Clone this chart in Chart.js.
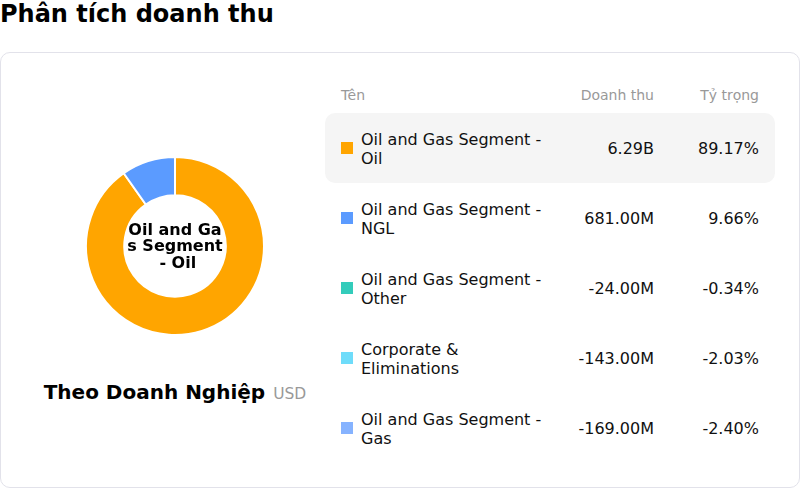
<!DOCTYPE html>
<html>
<head>
<meta charset="utf-8">
<script src="https://cdn.jsdelivr.net/npm/chart.js@4.4.1/dist/chart.umd.min.js"></script>
<style>
  html,body{margin:0;padding:0;background:#fff;font-family:"DejaVu Sans",sans-serif;}
  body{width:800px;height:488px;position:relative;overflow:hidden;}
  #title{position:absolute;left:0;top:0px;font-size:24px;font-weight:bold;color:#000;}
  #card{position:absolute;left:0;top:52px;width:798px;height:434px;border:1px solid #e2e2ea;border-radius:10px;box-sizing:content-box;}
  #chartBox{position:absolute;left:85px;top:156px;width:180px;height:180px;}
  #caption{position:absolute;left:0;width:350px;top:380px;text-align:center;white-space:nowrap;}
  #caption b{font-size:20px;color:#000;}
  #caption span{font-size:15.5px;color:#999;margin-left:8px;}
  .hdr{position:absolute;top:87px;font-size:14px;color:#999;}
  .row{position:absolute;left:325px;width:450px;height:70px;border-radius:10px;}
  .row.hl{background:#f5f5f5;}
  .sw{position:absolute;left:16px;top:29px;width:12px;height:12px;}
  .nm{position:absolute;left:36px;top:16px;width:186px;font-size:16px;line-height:19px;color:#111;}
  .val{position:absolute;right:121px;top:26px;font-size:16px;color:#111;text-align:right;}
  .pct{position:absolute;right:16px;top:26px;font-size:16px;color:#111;text-align:right;}
</style>
</head>
<body>
<div id="title">Phân tích doanh thu</div>
<div id="card"></div>
<div id="chartBox"><canvas id="c"></canvas></div>
<div id="caption"><b>Theo Doanh Nghiệp</b><span>USD</span></div>
<div class="hdr" style="left:341px;">Tên</div>
<div class="hdr" style="right:146px;">Doanh thu</div>
<div class="hdr" style="right:41px;">Tỷ trọng</div>
<div id="rows"></div>
<script>
const segmentNames = [
  "Oil and Gas Segment - Oil",
  "Oil and Gas Segment - NGL",
  "Oil and Gas Segment - Other",
  "Corporate & Eliminations",
  "Oil and Gas Segment - Gas"
];
const revenueMillions = [6290, 681, -24, -143, -169];
const revenueLabels = ["6.29B", "681.00M", "-24.00M", "-143.00M", "-169.00M"];
const shareLabels = ["89.17%", "9.66%", "-0.34%", "-2.03%", "-2.40%"];
const segmentColors = ["#FFA500", "#5B9BFF", "#33CCBB", "#6EDCFA", "#86B3FF"];
const centerLabel = "Oil and Gas Segment - Oil";

// table
const rowsEl = document.getElementById('rows');
const rowTop0 = 113, rowH = 70;
segmentNames.forEach((n, i) => {
  const r = document.createElement('div');
  r.className = 'row' + (i === 0 ? ' hl' : '');
  r.style.top = (rowTop0 + i * rowH) + 'px';
  const nameHtml = n.replace(/&/g,'&amp;');
  r.innerHTML = `<div class="sw" style="background:${segmentColors[i]}"></div>
    <div class="nm">${nameHtml}</div>
    <div class="val">${revenueLabels[i]}</div>
    <div class="pct">${shareLabels[i]}</div>`;
  rowsEl.appendChild(r);
});
document.querySelectorAll('.nm').forEach(el => {
  el.style.top = ((70 - el.offsetHeight) / 2 + 1) + 'px';
});

const centerText = {
  id: 'centerText',
  afterDraw(chart) {
    const meta = chart.getDatasetMeta(0);
    if (!meta.data.length) return;
    const arc = meta.data[0];
    const ctx = chart.ctx;
    ctx.save();
    ctx.font = 'bold 16px "DejaVu Sans"';
    ctx.fillStyle = '#000';
    ctx.textAlign = 'center';
    ctx.textBaseline = 'middle';
    const maxW = 98;
    const lines = [];
    let cur = '';
    for (const ch of centerLabel) {
      if (ctx.measureText(cur + ch).width > maxW && cur.length) {
        lines.push(cur); cur = ch;
      } else cur += ch;
    }
    if (cur) lines.push(cur);
    const lh = 16.5;
    const y0 = arc.y + 1 - (lines.length - 1) * lh / 2;
    lines.forEach((l, i) => ctx.fillText(l, arc.x, y0 + i * lh));
    ctx.restore();
  }
};

new Chart(document.getElementById('c'), {
  type: 'doughnut',
  data: {
    labels: segmentNames,
    datasets: [{
      data: revenueMillions.map(v => Math.max(0, v)),
      backgroundColor: segmentColors,
      borderColor: '#fff',
      borderWidth: 2,
      hoverOffset: 0
    }]
  },
  options: {
    responsive: true,
    maintainAspectRatio: false,
    animation: false,
    cutout: '57%',
    layout: { padding: 0 },
    plugins: { legend: { display: false }, tooltip: { enabled: false } }
  },
  plugins: [centerText]
});
</script>
</body>
</html>
